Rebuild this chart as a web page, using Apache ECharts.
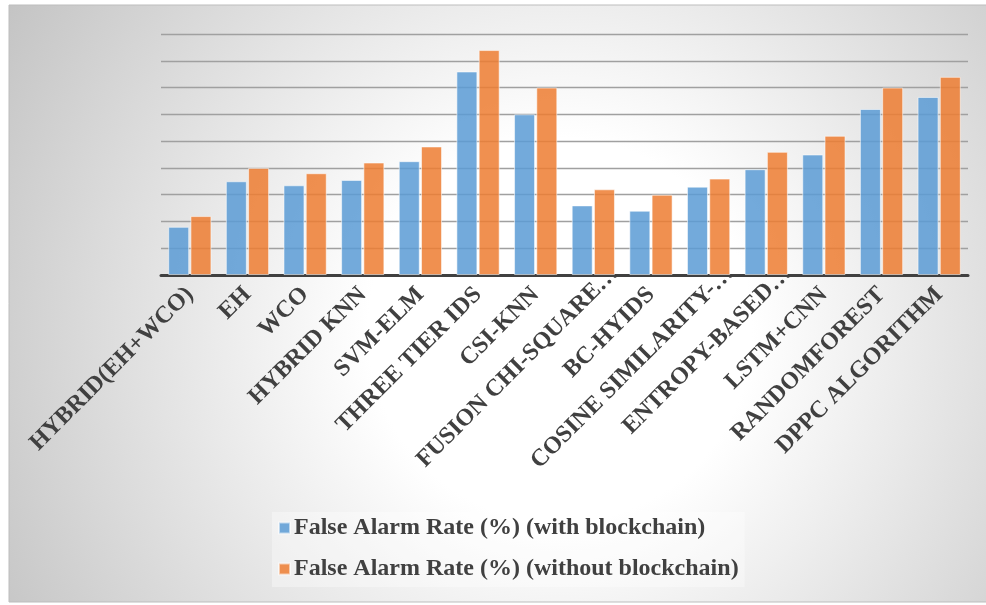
<!DOCTYPE html>
<html>
<head>
<meta charset="utf-8">
<script src="https://cdn.jsdelivr.net/npm/echarts@6/dist/echarts.min.js"></script>
<style>
  html, body { margin: 0; padding: 0; background: #ffffff; }
  #chart { width: 986px; height: 605px; }
</style>
</head>
<body>
<div id="chart"></div>
<script>
// Methods compared on the x axis
const categories = [
  'HYBRID(EH+WCO)', 'EH', 'WCO', 'HYBRID KNN', 'SVM-ELM', 'THREE TIER IDS',
  'CSI-KNN', 'FUSION CHI-SQUARE…', 'BC-HYIDS', 'COSINE SIMILARITY-…',
  'ENTROPY-BASED…', 'LSTM+CNN', 'RANDOMFOREST', 'DPPC ALGORITHM'
];

// False alarm rate (%) per method
const withBlockchain = [1.8, 3.5, 3.35, 3.55, 4.25, 7.6, 6.0, 2.6, 2.4, 3.3, 3.95, 4.5, 6.2, 6.65];
const withoutBlockchain = [2.2, 4.0, 3.8, 4.2, 4.8, 8.4, 7.0, 3.2, 3.0, 3.6, 4.6, 5.2, 7.0, 7.4];

const seriesNames = [
  'False Alarm Rate (%) (with blockchain)',
  'False Alarm Rate (%) (without blockchain)'
];

const chart = echarts.init(document.getElementById('chart'), null, { renderer: 'canvas' });

const serif = '"Liberation Serif", "Times New Roman", serif';

// Shortened names (ending in an ellipsis) sit a little further along their slant
const axisData = categories.map(function (name) {
  if (name.endsWith('…')) {
    return { value: name, textStyle: { padding: [0, -30, 0, 0] } };
  }
  return name;
});

chart.setOption({
  animation: false,
  backgroundColor: '#ffffff',
  graphic: [{
    type: 'rect',
    z: -10,
    silent: true,
    shape: { x: 9, y: 5, width: 990, height: 597 },
    style: {
      fill: {
        type: 'radial', x: 560, y: 330, r: 640, global: true,
        colorStops: [
          { offset: 0, color: '#ffffff' },
          { offset: 0.3, color: '#ffffff' },
          { offset: 1, color: '#c4c4c4' }
        ]
      },
      stroke: '#bdbdbd',
      lineWidth: 1
    }
  }],
  grid: { left: 161, right: 18, top: 34, bottom: 330, containLabel: false },
  legend: {
    orient: 'vertical',
    left: 272,
    top: 512,
    padding: [4, 6, 6, 6],
    backgroundColor: 'rgba(255,255,255,0.35)',
    itemWidth: 11,
    itemHeight: 11,
    itemGap: 17,
    icon: 'rect',
    textStyle: { fontFamily: serif, fontWeight: 'bold', fontSize: 24, color: '#404040', padding: [0, 0, 0, -1] },
    data: seriesNames
  },
  xAxis: {
    type: 'category',
    data: axisData,
    axisLine: { show: true, lineStyle: { color: '#404040', width: 3 } },
    axisTick: { show: false },
    axisLabel: {
      rotate: 45,
      interval: 0,
      margin: 16,
      fontFamily: serif,
      fontWeight: 'bold',
      fontSize: 24,
      color: '#404040'
    }
  },
  yAxis: {
    type: 'value',
    min: 0,
    max: 9,
    interval: 1,
    axisLabel: { show: false },
    axisLine: { show: false },
    axisTick: { show: false },
    splitLine: { show: true, lineStyle: { color: '#a0a0a0', width: 1.3 } }
  },
  series: [
    {
      name: seriesNames[0],
      type: 'bar',
      data: withBlockchain,
      barWidth: 21,
      barGap: '6%',
      itemStyle: { color: 'rgba(91,155,213,0.85)', borderColor: 'rgba(255,255,255,0.55)', borderWidth: 1 }
    },
    {
      name: seriesNames[1],
      type: 'bar',
      data: withoutBlockchain,
      barWidth: 21,
      barGap: '6%',
      itemStyle: { color: 'rgba(237,125,49,0.85)', borderColor: 'rgba(255,255,255,0.55)', borderWidth: 1 }
    }
  ]
});
</script>
</body>
</html>
